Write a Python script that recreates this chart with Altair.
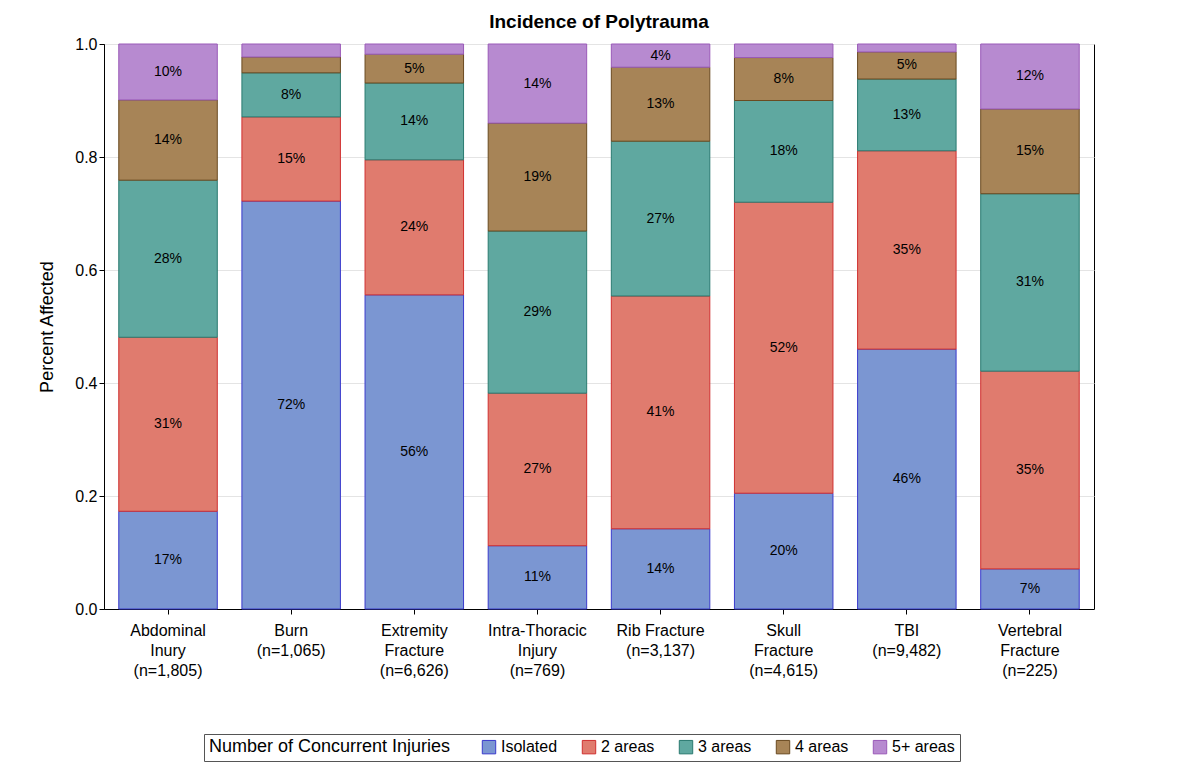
import altair as alt
import pandas as pd

categories = ["Abdominal|Inury|(n=1,805)", "Burn|(n=1,065)", "Extremity|Fracture|(n=6,626)",
              "Intra-Thoracic|Injury|(n=769)", "Rib Fracture|(n=3,137)", "Skull|Fracture|(n=4,615)",
              "TBI|(n=9,482)", "Vertebral|Fracture|(n=225)"]
groups = ["Isolated", "2 areas", "3 areas", "4 areas", "5+ areas"]
isolated = [0.173, 0.722, 0.556, 0.112, 0.142, 0.205, 0.460, 0.071]
two = [0.308, 0.149, 0.239, 0.270, 0.412, 0.515, 0.351, 0.350]
three = [0.278, 0.078, 0.136, 0.287, 0.274, 0.180, 0.127, 0.314]
four = [0.142, 0.028, 0.051, 0.191, 0.131, 0.076, 0.048, 0.150]
five = [0.099, 0.023, 0.018, 0.140, 0.041, 0.024, 0.014, 0.115]
colors = ["#7b96d2", "#e07b6e", "#5fa8a0", "#a78457", "#b78ad0"]
strokes = ["#3a3acc", "#d03030", "#2a7a70", "#6a4a20", "#9a5ab8"]

rows = []
for i, c in enumerate(categories):
    base = 0.0
    for g, vals in zip(groups, [isolated, two, three, four, five]):
        v = vals[i]
        rows.append(dict(cat=c, group=g, y0=base, y1=base + v, mid=base + v / 2,
                         label=f"{round(v*100):d}%" if v >= 0.03 else ""))
        base += v
df = pd.DataFrame(rows)

x = alt.X("cat:N", sort=categories, title=None,
          axis=alt.Axis(labelAngle=0, labelExpr="split(datum.label, '|')", labelFontSize=16,
                        labelColor="black", ticks=True, domain=True, domainColor="black",
                        labelPadding=8, labelLineHeight=20),
          scale=alt.Scale(paddingInner=0.2, paddingOuter=0.12))

bars = alt.Chart(df).mark_bar(strokeWidth=1).encode(
    x=x,
    y=alt.Y("y0:Q", title="Percent Affected", scale=alt.Scale(domain=[0, 1]),
            axis=alt.Axis(values=[0, 0.2, 0.4, 0.6, 0.8, 1.0], format=".1f", labelFontSize=16,
                          titleFontSize=18, titleFontWeight="normal", labelColor="black",
                          gridColor="#e4e4e4", domain=True, domainColor="black", titlePadding=18)),
    y2="y1:Q",
    color=alt.Color("group:N", sort=groups, scale=alt.Scale(domain=groups, range=colors),
                    legend=alt.Legend(title="Number of Concurrent Injuries", orient="none",
                                      legendX=100, legendY=690,
                                      direction="horizontal", titleOrient="left", titleLimit=400,
                                      symbolType="square", symbolSize=180, labelFontSize=16,
                                      titleFontSize=18, titleFontWeight="normal", titlePadding=30,
                                      strokeColor="#555", padding=5, columnPadding=22,
                                      symbolStrokeWidth=1)),
    stroke=alt.Stroke("group:N", sort=groups, scale=alt.Scale(domain=groups, range=strokes), legend=None),
)

text = alt.Chart(df).mark_text(fontSize=14, color="black").encode(
    x=alt.X("cat:N", sort=categories), y="mid:Q", text="label:N")

chart = (bars + text).properties(
    width=990, height=565,
    padding={"left": 30, "top": 5, "right": 5, "bottom": 5},
    title=alt.TitleParams("Incidence of Polytrauma", fontSize=19, fontWeight="bold"),
).configure_view(stroke="black").configure_axis(tickColor="black")

chart.save("out.html", embed_options={"renderer": "svg", "actions": False})
